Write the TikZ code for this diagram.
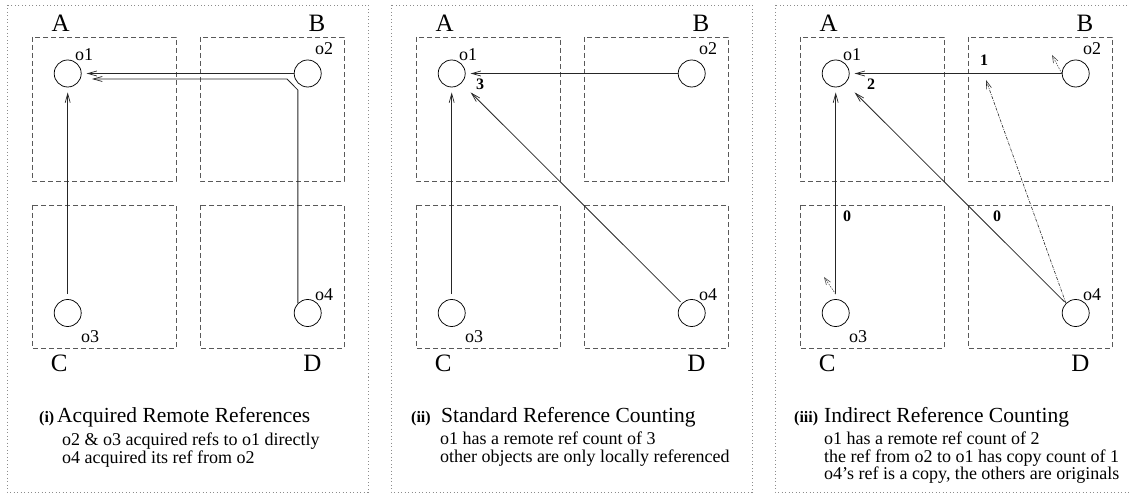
\documentclass[tikz,border=0pt]{standalone}
\usepackage{fontspec}
\setmainfont{Liberation Serif}
\usetikzlibrary{arrows.meta}
\tikzset{
  obj/.style={circle,draw=black,line width=0.75pt,minimum size=27pt,inner sep=0pt},
  regbox/.style={draw=black!65,line width=0.85pt,dash pattern=on 5pt off 3pt},
  outerbox/.style={draw=black!45,line width=0.8pt,dash pattern=on 1pt off 2.5pt},
  reglbl/.style={font=\fontsize{25}{28}\selectfont,anchor=base,inner sep=0pt},
  objlbl/.style={font=\fontsize{18}{20}\selectfont,anchor=base,inner sep=0pt},
  cnt/.style={font=\fontsize{16}{18}\selectfont\bfseries,anchor=base,inner sep=0pt},
  num/.style={font=\fontsize{16}{18}\selectfont\bfseries,anchor=base west,inner sep=0pt},
  ttl/.style={font=\fontsize{21.5}{24}\selectfont,anchor=base west,inner sep=0pt},
  desc/.style={font=\fontsize{18}{20}\selectfont,anchor=base west,inner sep=0pt},
  ref/.style={draw=black!85,line width=0.8pt,-{Straight Barb[length=9pt,width=5pt,line width=0.7pt]}},
  copyref/.style={draw=black!85,line width=0.6pt,dash pattern=on 3pt off 1.2pt on 0.8pt off 1.2pt,-{Straight Barb[length=8pt,width=5pt,line width=0.6pt]}},
  origref/.style={draw=black!70,line width=0.6pt,dash pattern=on 1.5pt off 1.2pt,-{Straight Barb[length=7pt,width=5pt,line width=0.6pt]}},
}
\newcommand\drawpanel[2]{%
\begin{scope}[shift={(#1,0)}]
  \draw[outerbox] (7,5) rectangle (368,492);
  \draw[regbox] (32,37) rectangle (176,181);
  \draw[regbox] (200,37) rectangle (344,181);
  \draw[regbox] (32,205) rectangle (176,348);
  \draw[regbox] (200,205) rectangle (344,348);
  \node[reglbl] (#2A) at (60.7,31.7) {A};
  \node[reglbl] (#2B) at (317,31.7) {B};
  \node[reglbl] (#2C) at (59.3,371.7) {C};
  \node[reglbl] (#2D) at (312.3,371.7) {D};
  \node[obj] (#2o1) at (67.7,73.5) {};
  \node[obj] (#2o2) at (307.7,73.5) {};
  \node[obj] (#2o3) at (67.7,313) {};
  \node[obj] (#2o4) at (307.7,313) {};
  \node[objlbl] (#2l1) at (84,61) {o1};
  \node[objlbl] (#2l2) at (324,55) {o2};
  \node[objlbl] (#2l3) at (90,342.7) {o3};
  \node[objlbl] (#2l4) at (324,301) {o4};
\end{scope}}
\begin{document}
\begin{tikzpicture}[x=1pt,y=-1pt]
\useasboundingbox (0,0) rectangle (1130,494);
\clip (0,0) rectangle (1130,494);
\drawpanel{0}{a}
\drawpanel{384}{b}
\drawpanel{768}{c}

% ---- panel (i)
\draw[ref,shorten >=5pt] (ao2) -- (ao1);
\coordinate (ay) at (0,90);
\coordinate (ak2) at (287,79);
\coordinate (ak3) at (92,79);
\draw[ref] (ao4.north west) -- (ao4.north west |- ay) -- (ak2) -- (ak3);
\draw[ref,shorten <=5pt,shorten >=5pt] (ao3) -- (ao1);
\node[num] (ai) at (39,422) {(i)};
\node[ttl] (at) at (57,422) {Acquired Remote References};
\node[desc] (ad1) at (62,445) {o2 \& o3 acquired refs to o1 directly};
\node[desc] (ad2) at (62,463) {o4 acquired its ref from o2};

% ---- panel (ii)
\draw[ref,shorten >=5pt] (bo2) -- (bo1);
\draw[ref,shorten <=5pt,shorten >=5pt] (bo3) -- (bo1);
\draw[ref,shorten <=2pt,shorten >=13pt] (bo4) -- (bo1);
\node[cnt] (bn3) at (480,90) {3};
\node[num] (bii) at (411,422) {(ii)};
\node[ttl] (bt) at (441,422) {Standard Reference Counting};
\node[desc] (bd1) at (440,444) {o1 has a remote ref count of 3};
\node[desc] (bd2) at (440,462) {other objects are only locally referenced};

% ---- panel (iii)
\draw[ref,shorten >=5pt] (co2) -- (co1);
\draw[ref,shorten <=5pt,shorten >=5pt] (co3) -- (co1);
\draw[ref,shorten <=2pt,shorten >=13pt] (co4) -- (co1);
\coordinate (ctip) at (986,80);
\draw[copyref] (co4.north west) -- (ctip);
\coordinate (cs2) at (1052,55);
\draw[origref] (co2.west) -- (cs2);
\coordinate (cs3) at (824,277);
\draw[origref] ([yshift=5pt]co3.north) -- (cs3);
\node[cnt] (cn1) at (984,66) {1};
\node[cnt] (cn2) at (871,90) {2};
\node[cnt] (cn0a) at (847,222) {0};
\node[cnt] (cn0b) at (997,222) {0};
\node[num] (ciii) at (794,422) {(iii)};
\node[ttl] (ct) at (824,422) {Indirect Reference Counting};
\node[desc] (cd1) at (824,444) {o1 has a remote ref count of 2};
\node[desc] (cd2) at (824,462) {the ref from o2 to o1 has copy count of 1};
\node[desc] (cd3) at (824,479) {o4’s ref is a copy, the others are originals};
\end{tikzpicture}
\end{document}
